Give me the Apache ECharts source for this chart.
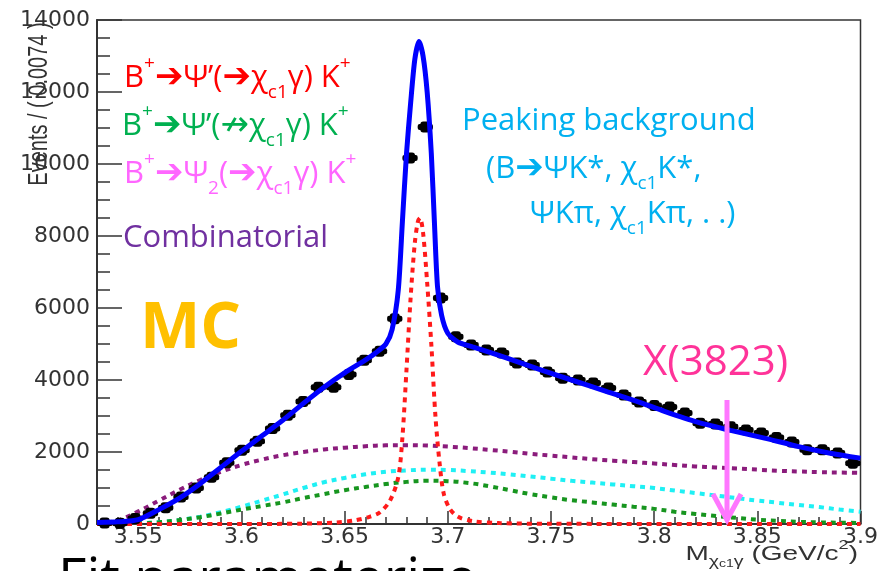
<!DOCTYPE html>
<html>
<head>
<meta charset="utf-8">
<title>Mχc1γ fit</title>
<script src="https://cdn.jsdelivr.net/npm/echarts@6/dist/echarts.min.js"></script>
<style>
  html, body { margin: 0; padding: 0; background: #ffffff; }
  #chart { width: 881px; height: 571px; }
</style>
</head>
<body>
<div id="chart"></div>
<script>
// ---- histogram: M(chi_c1 gamma), bin width 0.0074 GeV/c^2 ----
const binWidth = 0.0074;
const binCenters = [
  3.5337, 3.5411, 3.5485, 3.5559, 3.5633, 3.5707, 3.5781, 3.5855, 3.5929, 3.6003,
  3.6077, 3.6151, 3.6225, 3.6299, 3.6373, 3.6447, 3.6521, 3.6595, 3.6669, 3.6743,
  3.6817, 3.6891, 3.6965, 3.7039, 3.7113, 3.7187, 3.7261, 3.7335, 3.7409, 3.7483,
  3.7557, 3.7631, 3.7705, 3.7779, 3.7853, 3.7927, 3.8001, 3.8075, 3.8149, 3.8223,
  3.8297, 3.8371, 3.8445, 3.8519, 3.8593, 3.8667, 3.8741, 3.8815, 3.8889, 3.8963
];
const binCounts = [
  30, 20, 150, 300, 450, 750, 1000, 1300, 1700, 2050,
  2300, 2650, 3020, 3400, 3800, 3800, 4150, 4550, 4800, 5700,
  10170, 11030, 6280, 5200, 4970, 4830, 4750, 4470, 4420, 4220,
  4050, 4000, 3920, 3780, 3580, 3390, 3290, 3250, 3080, 2800,
  2780, 2700, 2610, 2530, 2400, 2280, 2060, 2060, 1970, 1690
];

// ---- total fit ----
const totalFitX = [
  3.530, 3.540, 3.550, 3.560, 3.570, 3.580, 3.590, 3.600, 3.610, 3.620,
  3.630, 3.640, 3.650, 3.660, 3.665, 3.670, 3.673, 3.676, 3.678, 3.680,
  3.682, 3.684, 3.686, 3.688, 3.690, 3.692, 3.6935, 3.695, 3.697, 3.700,
  3.705, 3.712, 3.728, 3.744, 3.760, 3.776, 3.792, 3.805, 3.821, 3.837,
  3.854, 3.870, 3.886, 3.900
];
const totalFitY = [
  40, 60, 120, 400, 720, 1120, 1570, 2020, 2450, 2880,
  3350, 3800, 4200, 4550, 4750, 5000, 5400, 6500, 8400, 10300,
  11700, 12900, 13400, 13000, 12000, 10300, 8400, 6600, 5800, 5300,
  5050, 4920, 4620, 4300, 4000, 3700, 3400, 3130, 2830, 2600,
  2380, 2150, 1960, 1830
];

// ---- B+ -> psi'(-> chi_c1 gamma) K+ ----
const psiSigX = [
  3.530, 3.600, 3.630, 3.645, 3.655, 3.662, 3.667, 3.672, 3.676, 3.678,
  3.680, 3.682, 3.684, 3.6855, 3.6865, 3.688, 3.690, 3.692, 3.694, 3.696,
  3.698, 3.701, 3.705, 3.712, 3.725, 3.750, 3.900
];
const psiSigY = [
  0, 0, 10, 40, 100, 200, 320, 650, 1300, 2400,
  4300, 6300, 7800, 8400, 8500, 8100, 6700, 5000, 3000, 1700,
  850, 420, 200, 80, 25, 5, 0
];

// ---- shared grid for the broad components ----
const broadX = [
  3.530, 3.540, 3.550, 3.560, 3.570, 3.580, 3.590, 3.600, 3.610, 3.620,
  3.630, 3.640, 3.650, 3.660, 3.670, 3.680, 3.690, 3.700, 3.710, 3.720,
  3.730, 3.740, 3.750, 3.760, 3.770, 3.780, 3.790, 3.800, 3.810, 3.820,
  3.830, 3.840, 3.850, 3.860, 3.870, 3.880, 3.890, 3.900
];
// B+ -> psi'(not -> chi_c1 gamma) K+
const psiOtherY = [
  0, 0, 10, 50, 110, 190, 290, 400, 500, 600,
  720, 830, 940, 1030, 1110, 1170, 1200, 1190, 1140, 1050,
  940, 830, 740, 660, 600, 540, 480, 420, 340, 280,
  220, 170, 120, 90, 60, 45, 35, 30
];
// peaking background
const peakingY = [
  0, 5, 20, 50, 110, 200, 330, 480, 650, 820,
  1000, 1160, 1280, 1380, 1450, 1490, 1510, 1500, 1470, 1430,
  1380, 1320, 1260, 1200, 1150, 1100, 1050, 1000, 930, 860,
  790, 720, 650, 590, 530, 470, 400, 340
];
// combinatorial
const combY = [
  0, 100, 350, 650, 950, 1220, 1450, 1640, 1790, 1910,
  2000, 2070, 2120, 2160, 2185, 2190, 2180, 2150, 2110, 2060,
  2010, 1950, 1900, 1850, 1800, 1760, 1720, 1680, 1640, 1600,
  1570, 1540, 1510, 1480, 1460, 1440, 1430, 1420
];

// ---- axes ----
const xMin = 3.53, xMax = 3.9;
const xMajorTicks = [3.55, 3.6, 3.65, 3.7, 3.75, 3.8, 3.85, 3.9];
const xTickLabels = ['3.55', '3.6', '3.65', '3.7', '3.75', '3.8', '3.85', '3.9'];
const xMinorTicks = [
  3.54, 3.55, 3.56, 3.57, 3.58, 3.59, 3.60, 3.61, 3.62, 3.63, 3.64, 3.65,
  3.66, 3.67, 3.68, 3.69, 3.70, 3.71, 3.72, 3.73, 3.74, 3.75, 3.76, 3.77,
  3.78, 3.79, 3.80, 3.81, 3.82, 3.83, 3.84, 3.85, 3.86, 3.87, 3.88, 3.89
];
const yMin = 0, yMax = 14000, yStep = 2000;
const yTickLabels = ['0', '2000', '4000', '6000', '8000', '10000', '12000', '14000'];

const zip = (xs, ys) => xs.map((x, i) => [x, ys[i]]);

const axisFont = 'DejaVu Sans';
const slideFont = "'Open Sans', 'DejaVu Sans', sans-serif";
const arrowFont = "'DejaVu Sans', sans-serif";

// rich-text styles for the slide labels (zrender text uses `fill`)
function slideRich(color, size) {
  return {
    m:   { fontFamily: slideFont, fontSize: size, lineHeight: 48, fill: color },
    a:   { fontFamily: arrowFont, fontSize: size + 3, lineHeight: 48, fill: color },
    sup: { fontFamily: slideFont, fontSize: 19, lineHeight: 34, verticalAlign: 'top', fill: color },
    sub: { fontFamily: slideFont, fontSize: 19, lineHeight: 21, verticalAlign: 'bottom', fill: color }
  };
}

const chart = echarts.init(document.getElementById('chart'), null, { renderer: 'canvas' });

const dotted = (color) => ({ color: color, width: 4, type: [5, 5] });

const option = {
  animation: false,
  backgroundColor: '#ffffff',
  grid: {
    left: 97, right: 18, top: 20, bottom: 47,
    show: true, borderColor: '#333333', borderWidth: 1.5, backgroundColor: 'transparent'
  },
  xAxis: [
    {
      type: 'value', min: xMin, max: xMax, position: 'bottom',
      axisLine: { show: true, onZero: false, lineStyle: { color: '#333333', width: 2 } },
      axisTick: { show: true, inside: true, length: 13, customValues: xMajorTicks,
                  lineStyle: { color: '#333333', width: 1.5 } },
      axisLabel: {
        show: true, customValues: xMajorTicks, margin: 2,
        fontFamily: axisFont, fontSize: 22, color: '#333333',
        formatter: (v) => {
          const i = xMajorTicks.findIndex(t => Math.abs(t - v) < 1e-6);
          return i >= 0 ? xTickLabels[i] : '';
        }
      },
      splitLine: { show: false }
    },
    {
      type: 'value', min: xMin, max: xMax, position: 'bottom',
      axisLine: { show: false },
      axisTick: { show: true, inside: true, length: 7, customValues: xMinorTicks,
                  lineStyle: { color: '#333333', width: 1.5 } },
      axisLabel: { show: false },
      splitLine: { show: false }
    }
  ],
  yAxis: {
    type: 'value', min: yMin, max: yMax, interval: yStep,
    axisLine: { show: true, lineStyle: { color: '#333333', width: 2 } },
    axisTick: { show: true, inside: true, length: 25, lineStyle: { color: '#333333', width: 1.5 } },
    minorTick: { show: true, splitNumber: 4, length: 13, lineStyle: { color: '#333333', width: 1.5 } },
    axisLabel: {
      margin: 7, fontFamily: axisFont, fontSize: 22, color: '#333333',
      formatter: (v) => yTickLabels[Math.round(v / yStep)]
    },
    splitLine: { show: false }
  },
  series: [
    { name: 'Combinatorial', type: 'line', data: zip(broadX, combY), showSymbol: false,
      smooth: 0.4, lineStyle: dotted('#8B1C7C'), z: 2 },
    { name: 'Peaking background', type: 'line', data: zip(broadX, peakingY), showSymbol: false,
      smooth: 0.4, lineStyle: dotted('#1FF0F4'), z: 2 },
    { name: "B+ → ψ'(↛χc1γ) K+", type: 'line', data: zip(broadX, psiOtherY), showSymbol: false,
      smooth: 0.4, lineStyle: dotted('#17951F'), z: 2 },
    { name: "B+ → ψ'(→χc1γ) K+", type: 'line', data: zip(psiSigX, psiSigY), showSymbol: false,
      smooth: 0.3, lineStyle: dotted('#FF1A1A'), z: 3 },
    {
      name: 'MC', type: 'custom', z: 4,
      data: zip(binCenters, binCounts),
      encode: { x: 0, y: 1 },
      renderItem: (params, api) => {
        const x = api.value(0), y = api.value(1);
        const c = api.coord([x, y]);
        const l = api.coord([x - binWidth / 2, y]);
        const r = api.coord([x + binWidth / 2, y]);
        return {
          type: 'group',
          children: [
            { type: 'rect', shape: { x: l[0], y: c[1] - 3, width: r[0] - l[0], height: 6, r: 2 },
              style: { fill: '#000000' } },
            { type: 'rect', shape: { x: c[0] - 5, y: c[1] - 5.5, width: 10, height: 11, r: 3 },
              style: { fill: '#000000' } }
          ]
        };
      }
    },
    { name: 'Total fit', type: 'line', data: zip(totalFitX, totalFitY), showSymbol: false,
      smooth: 0.25, lineStyle: { color: '#0000FF', width: 5 }, z: 5 }
  ],
  graphic: [
    // y-axis title, ROOT style: rotated, right-aligned to the top
    { type: 'text', x: 40, y: 104, rotation: Math.PI / 2, scaleY: 1.35, z: 10,
      style: { text: 'Events / ( 0.0074 )', fill: '#333333', fontFamily: 'Liberation Sans',
               fontSize: 20, align: 'center', verticalAlign: 'middle' } },
    // x-axis title
    { type: 'text', x: 858, y: 554, scaleX: 1.4, z: 10,
      style: {
        text: '{a|M}{s|χ}{ss|c1}{s|γ}{a| (GeV/c}{p|2}{a|)}',
        align: 'right', verticalAlign: 'middle',
        rich: {
          a:  { fontFamily: 'Liberation Sans', fontSize: 20, lineHeight: 30, fill: '#333333' },
          s:  { fontFamily: 'Liberation Sans', fontSize: 14, lineHeight: 12, verticalAlign: 'bottom', fill: '#333333' },
          ss: { fontFamily: 'Liberation Sans', fontSize: 10, lineHeight: 6, verticalAlign: 'bottom', fill: '#333333' },
          p:  { fontFamily: 'Liberation Sans', fontSize: 13, lineHeight: 26, verticalAlign: 'top', fill: '#333333' }
        }
      } },
    // component labels
    { type: 'text', x: 124, y: 54, z: 10,
      style: { text: '{m|B}{sup|+}{a|➔}{m|Ψ’(}{a|➔}{m|χ}{sub|c1}{m|γ) K}{sup|+}',
               align: 'left', verticalAlign: 'top', rich: slideRich('#FF0000', 31) } },
    { type: 'text', x: 122, y: 102, z: 10,
      style: { text: '{m|B}{sup|+}{a|➔}{m|Ψ’(}{a|↛}{m|χ}{sub|c1}{m|γ) K}{sup|+}',
               align: 'left', verticalAlign: 'top', rich: slideRich('#00B050', 31) } },
    { type: 'text', x: 124, y: 150, z: 10,
      style: { text: '{m|B}{sup|+}{a|➔}{m|Ψ}{sub|2}{m|(}{a|➔}{m|χ}{sub|c1}{m|γ) K}{sup|+}',
               align: 'left', verticalAlign: 'top', rich: slideRich('#FF66FF', 31) } },
    { type: 'text', x: 123, y: 214, z: 10,
      style: { text: '{m|Combinatorial}',
               align: 'left', verticalAlign: 'top', rich: slideRich('#7030A0', 31) } },
    { type: 'text', x: 462, y: 97, z: 10,
      style: { text: '{m|Peaking background}',
               align: 'left', verticalAlign: 'top', rich: slideRich('#00B0F0', 31) } },
    { type: 'text', x: 486, y: 145, z: 10,
      style: { text: '{m|(B}{a|➔}{m|ΨK*, χ}{sub|c1}{m|K*,}',
               align: 'left', verticalAlign: 'top', rich: slideRich('#00B0F0', 31) } },
    { type: 'text', x: 530, y: 190, z: 10,
      style: { text: '{m|ΨKπ, χ}{sub|c1}{m|Kπ, . .)}',
               align: 'left', verticalAlign: 'top', rich: slideRich('#00B0F0', 31) } },
    // MC tag
    { type: 'text', x: 140, y: 330, z: 10,
      style: { text: 'MC', fill: '#FFC000', fontFamily: slideFont, fontWeight: 'bold',
               fontSize: 64, align: 'left', verticalAlign: 'middle' } },
    // X(3823) annotation with arrow
    { type: 'text', x: 643, y: 363, z: 10,
      style: { text: 'X(3823)', fill: '#FF3399', fontFamily: slideFont,
               fontSize: 42, align: 'left', verticalAlign: 'middle' } },
    { type: 'polyline', z: 10,
      shape: { points: [[727, 400], [727, 519]] },
      style: { stroke: '#FF77FF', lineWidth: 5, fill: null } },
    { type: 'polyline', z: 10,
      shape: { points: [[713, 494], [727, 520], [741, 494]] },
      style: { stroke: '#FF77FF', lineWidth: 5, fill: null, lineJoin: 'miter' } },
    // slide text below the plot
    { type: 'text', x: 58, y: 581, z: 10,
      style: { text: 'Fit parameterize', fill: '#000000', fontFamily: slideFont,
               fontSize: 55, align: 'left', verticalAlign: 'middle' } }
  ]
};

chart.setOption(option);
</script>
</body>
</html>
